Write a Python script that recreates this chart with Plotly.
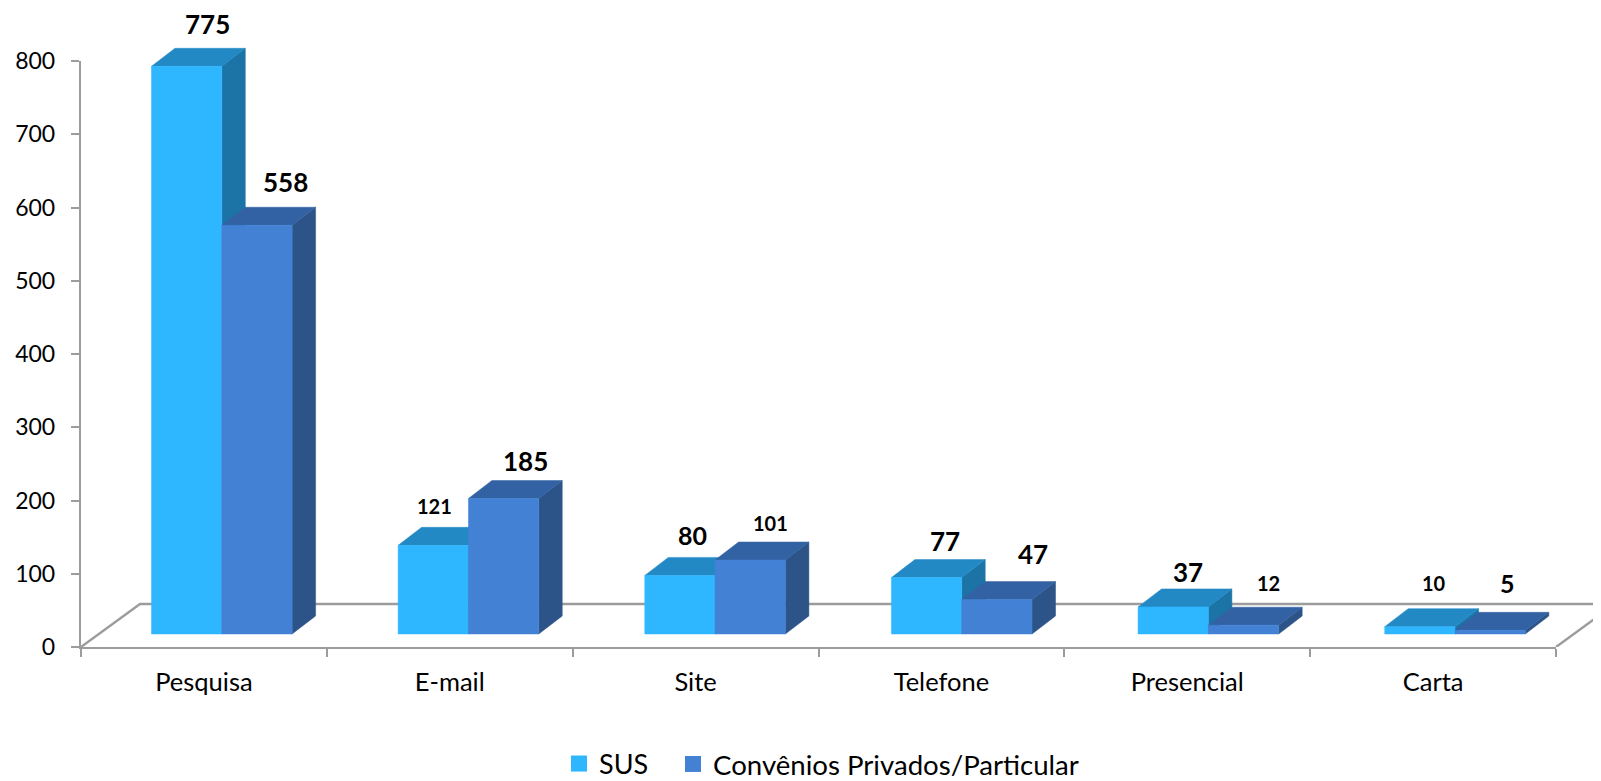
import plotly.graph_objects as go

categories = ["Pesquisa", "E-mail", "Site", "Telefone", "Presencial", "Carta"]
sus = [775, 121, 80, 77, 37, 10]
convenios = [558, 185, 101, 47, 12, 5]
y_ticks = [0, 100, 200, 300, 400, 500, 600, 700, 800]

# per-label style: font size and pixel nudges relative to the front-top centre of the bar
sus_label_size = [26, 20, 25, 26, 26, 20]
conv_label_size = [26, 26, 20, 26, 20, 25]
sus_label_dx = [21, 2, 14, 21, 18, 18]
sus_label_dy = [-42, -39, -40, -37, -35, -44]
conv_label_dx = [29, 23, 22, 39, 28, 21]
conv_label_dy = [-43, -37, -37, -46, -42, -47]

PAGE = 8  # browser body margin
W, H = 1601 - PAGE, 781 - PAGE
L, R, T, B = 81 - PAGE, 1556 - PAGE, 61 - PAGE, 647 - PAGE  # axis box in figure pixels
TOP_PAD = 16  # room above the 800 tick for the marks
PX_X = (R - L) / 6
PX_Y = (B - T) / 800
DX = 23.5 / PX_X
DY = 18 / PX_Y
BAR_LEFT = 70.5 / PX_X
BAR_W = 70.3 / PX_X
BAR_STEP = 1.0033  # bar groups sit very slightly wider apart than the ticks
BASE = 13 / PX_Y
FLOOR_DX = 59 / PX_X
FLOOR_DY = 43 / PX_Y

FONT = "Lato"
GRAY = "#9c9c9c"
SERIES = [
    dict(name="SUS", values=sus, front="#2EB6FF", top="#2389C4", side="#1C74A6", off=0,
         legend="legend", lx=551, size=27),
    dict(name="Convênios Privados/Particular", values=convenios, front="#4381D5", top="#3262A3", side="#2C5488",
         off=1, legend="legend2", lx=665, size=27.6),
]


def faces(values, off):
    fx, fy, tx, ty, sx, sy = [], [], [], [], [], []
    for i, v in enumerate(values):
        x0 = i * BAR_STEP + BAR_LEFT + off * BAR_W
        x1 = x0 + BAR_W
        y0 = BASE
        y1 = v + BASE
        fx += [x0, x1, x1, x0, x0, None]
        fy += [y0, y0, y1, y1, y0, None]
        tx += [x0, x1, x1 + DX, x0 + DX, x0, None]
        ty += [y1, y1, y1 + DY, y1 + DY, y1, None]
        sx += [x1, x1 + DX, x1 + DX, x1, x1, None]
        sy += [y0, y0 + DY, y1 + DY, y1, y0, None]
    return (fx, fy), (tx, ty), (sx, sy)


fig = go.Figure()

# floor
fig.add_trace(go.Scatter(
    x=[0, FLOOR_DX, 6 + FLOOR_DX, 6],
    y=[0, FLOOR_DY, FLOOR_DY, 0],
    xaxis="x2", yaxis="y2",
    mode="lines", line=dict(color=GRAY, width=2.4),
    showlegend=False, hoverinfo="skip",
))

for s in SERIES:
    front, top, side = faces(s["values"], s["off"])
    for (xs, ys), col in ((side, s["side"]), (top, s["top"]), (front, s["front"])):
        fig.add_trace(go.Scatter(
            x=xs, y=ys, xaxis="x2", yaxis="y2", mode="lines", fill="toself", fillcolor=col,
            line=dict(color=col, width=0.5), showlegend=False, hoverinfo="skip",
        ))
    # legend swatch, on the visible axes
    fig.add_trace(go.Scatter(
        x=[None], y=[None], mode="markers", name=s["name"], legend=s["legend"],
        marker=dict(symbol="square", size=16, color=s["front"]),
    ))

annotations = []
label_sets = [
    (sus, 0, sus_label_size, sus_label_dx, sus_label_dy),
    (convenios, 1, conv_label_size, conv_label_dx, conv_label_dy),
]
for vals, off, sizes, dxs, dys in label_sets:
    for i, v in enumerate(vals):
        annotations.append(dict(
            x=i + BAR_LEFT + off * BAR_W + BAR_W / 2, y=v + BASE, xref="x2", yref="y2",
            text=f"<b>{v}</b>", showarrow=False, xshift=dxs[i], yshift=-dys[i],
            xanchor="center", yanchor="middle",
            font=dict(family=FONT, size=sizes[i], color="#000000"),
        ))

plot_w = W - L
plot_h = B - (T - TOP_PAD)


def legend_cfg(s):
    return dict(
        orientation="h", xref="container", yref="container",
        x=s["lx"] / W, xanchor="left", y=1 - (764 - PAGE) / H, yanchor="middle",
        font=dict(family=FONT, size=s["size"]), bgcolor="rgba(0,0,0,0)",
        itemsizing="trace", itemwidth=30,
    )


fig.update_layout(
    width=W, height=H,
    margin=dict(l=L, r=0, t=T - TOP_PAD, b=H - B, pad=0),
    paper_bgcolor="white", plot_bgcolor="rgba(0,0,0,0)",
    font=dict(family=FONT, color="#000000"),
    annotations=annotations,
    showlegend=True,
    legend=legend_cfg(SERIES[0]),
    legend2=legend_cfg(SERIES[1]),
    # visible axes
    xaxis=dict(
        domain=[0, (R - L) / plot_w], anchor="y",
        range=[0, 6], showgrid=False, zeroline=False, showline=True, linecolor=GRAY, linewidth=2.4,
        tickmode="array", tickvals=[i + 0.5 for i in range(len(categories))], ticktext=categories,
        ticks="", tickfont=dict(family=FONT, size=25.5),
        minor=dict(tickmode="array", tickvals=list(range(len(categories) + 1)), ticks="outside",
                   ticklen=8, tickwidth=2, tickcolor=GRAY),
        ticklabelstandoff=11,
    ),
    yaxis=dict(
        domain=[0, (B - T) / plot_h], anchor="x",
        range=[0, 800], showgrid=False, zeroline=False, showline=True, linecolor=GRAY, linewidth=2.4,
        tickmode="array", tickvals=y_ticks, ticks="outside", ticklen=8, tickwidth=2, tickcolor=GRAY,
        tickfont=dict(family=FONT, size=23), ticklabelstandoff=11,
    ),
    # larger, hidden axes with the same scale, so the 3D faces may pass the visible box
    xaxis2=dict(domain=[0, 1], anchor="y2", range=[0, plot_w / PX_X], visible=False),
    yaxis2=dict(domain=[0, 1], anchor="x2", range=[0, plot_h / PX_Y], visible=False),
)

fig.write_html("out.html")
